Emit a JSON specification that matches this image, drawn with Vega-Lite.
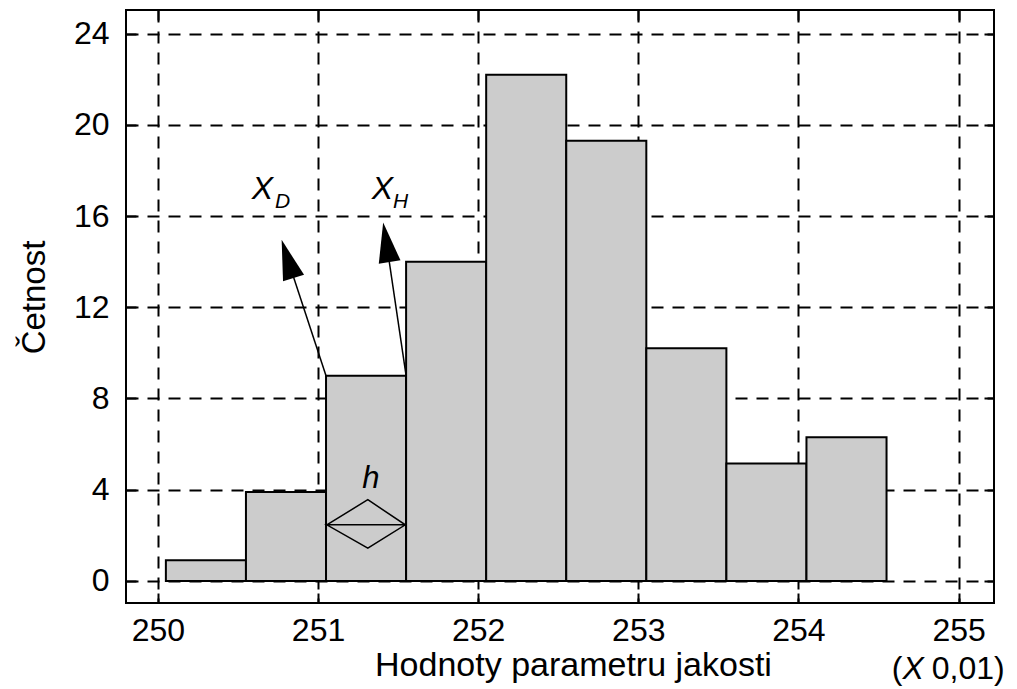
{
  "$schema": "https://vega.github.io/schema/vega-lite/v6.json",
  "width": 868,
  "height": 593,
  "autosize": {"type": "none"},
  "padding": {"left": 126, "top": 10, "right": 23, "bottom": 86},
  "background": "white",
  "config": {
    "font": "Liberation Sans",
    "view": {"stroke": "black", "strokeWidth": 2},
    "text": {"font": "Liberation Sans", "color": "black"}
  },
  "datasets": {
    "bins": [
      {"from": 250.05, "to": 250.55, "count": 0.9},
      {"from": 250.55, "to": 251.05, "count": 3.9},
      {"from": 251.05, "to": 251.55, "count": 9},
      {"from": 251.55, "to": 252.05, "count": 14},
      {"from": 252.05, "to": 252.55, "count": 22.2},
      {"from": 252.55, "to": 253.05, "count": 19.3},
      {"from": 253.05, "to": 253.55, "count": 10.2},
      {"from": 253.55, "to": 254.05, "count": 5.15},
      {"from": 254.05, "to": 254.55, "count": 6.3}
    ],
    "diamond": [
      {"step": 0, "x": 251.055, "y": 2.46},
      {"step": 1, "x": 251.311, "y": 3.56},
      {"step": 2, "x": 251.545, "y": 2.46},
      {"step": 3, "x": 251.311, "y": 1.44},
      {"step": 4, "x": 251.055, "y": 2.46},
      {"step": 5, "x": 251.545, "y": 2.46}
    ],
    "arrows": [
      {"arrow": "D", "step": 0, "x": 251.05, "y": 9},
      {"arrow": "D", "step": 1, "x": 250.81, "y": 14.12},
      {"arrow": "H", "step": 0, "x": 251.55, "y": 9},
      {"arrow": "H", "step": 1, "x": 251.427, "y": 14.85}
    ],
    "headD": [{"x": 250.81, "y": 14.12}],
    "headH": [{"x": 251.427, "y": 14.85}],
    "bigX": [
      {"x": 250.586, "y": 16.74, "text": "X"},
      {"x": 251.335, "y": 16.74, "text": "X"},
      {"x": 254.65, "y": -4.29, "text": "X"}
    ],
    "subs": [
      {"x": 250.732, "y": 16.35, "text": "D"},
      {"x": 251.468, "y": 16.35, "text": "H"}
    ],
    "hlabel": [{"x": 251.33, "y": 4.07, "text": "h"}],
    "unitL": [{"x": 254.583, "y": -4.29, "text": "("}],
    "unitR": [{"x": 255.288, "y": -4.29, "text": "0,01)"}]
  },
  "layer": [
    {
      "data": {"name": "bins"},
      "mark": {"type": "rect", "fill": "#cccccc", "stroke": "black", "strokeWidth": 2},
      "encoding": {
        "x": {
          "field": "from", "type": "quantitative",
          "scale": {"domain": [249.801, 255.221], "nice": false, "zero": false},
          "axis": {
            "orient": "bottom",
            "values": [250, 251, 252, 253, 254, 255],
            "format": "d",
            "grid": true, "gridColor": "black", "gridDash": [12, 9], "gridWidth": 2, "gridOpacity": 1,
            "domain": false,
            "ticks": true, "tickSize": -10, "tickColor": "black", "tickWidth": 2,
            "labelFontSize": 32, "labelColor": "black", "labelPadding": 22, "labelFlush": false,
            "labelFont": "Liberation Sans",
            "title": "Hodnoty parametru jakosti",
            "titleFont": "Liberation Sans",
            "titleFontSize": 34, "titleFontWeight": "normal", "titleColor": "black",
            "titleX": 447, "titleY": 72, "titleAlign": "center", "titleBaseline": "alphabetic"
          }
        },
        "x2": {"field": "to"},
        "y": {
          "field": "count", "type": "quantitative",
          "scale": {"domain": [-0.97, 25.04], "nice": false, "zero": false},
          "axis": {
            "orient": "left",
            "values": [0, 4, 8, 12, 16, 20, 24],
            "grid": true, "gridColor": "black", "gridDash": [12, 9], "gridWidth": 2, "gridOpacity": 1,
            "domain": false,
            "ticks": true, "tickSize": -10, "tickColor": "black", "tickWidth": 2,
            "labelFontSize": 32, "labelColor": "black", "labelPadding": 27, "labelFlush": false,
            "labelFont": "Liberation Sans",
            "title": "Četnost",
            "titleFont": "Liberation Sans",
            "titleFontSize": 33, "titleFontWeight": "normal", "titleColor": "black",
            "titleX": -82, "titleY": 287, "titleAlign": "center", "titleBaseline": "alphabetic", "titleAngle": -90
          }
        },
        "y2": {"datum": 0}
      }
    },
    {
      "data": {"name": "diamond"},
      "mark": {"type": "line", "stroke": "black", "strokeWidth": 1.5},
      "encoding": {
        "x": {
          "field": "x", "type": "quantitative",
          "scale": {"domain": [249.801, 255.221], "nice": false, "zero": false},
          "axis": {
            "orient": "top", "values": [250, 251, 252, 253, 254, 255],
            "labels": false, "grid": false, "domain": false, "title": null,
            "ticks": true, "tickSize": -10, "tickColor": "black", "tickWidth": 2
          }
        },
        "y": {
          "field": "y", "type": "quantitative",
          "scale": {"domain": [-0.97, 25.04], "nice": false, "zero": false},
          "axis": {
            "orient": "right", "values": [0, 4, 8, 12, 16, 20, 24],
            "labels": false, "grid": false, "domain": false, "title": null,
            "ticks": true, "tickSize": -10, "tickColor": "black", "tickWidth": 2
          }
        },
        "order": {"field": "step", "type": "quantitative"}
      }
    },
    {
      "data": {"name": "arrows"},
      "mark": {"type": "line", "stroke": "black", "strokeWidth": 1.5},
      "encoding": {
        "x": {"field": "x", "type": "quantitative", "scale": {"domain": [249.801, 255.221], "nice": false, "zero": false}, "axis": null},
        "y": {"field": "y", "type": "quantitative", "scale": {"domain": [-0.97, 25.04], "nice": false, "zero": false}, "axis": null},
        "detail": {"field": "arrow", "type": "nominal"},
        "order": {"field": "step", "type": "quantitative"}
      }
    },
    {
      "data": {"name": "headD"},
      "mark": {"type": "point", "shape": "M0,-1L0.55,1L-0.55,1Z", "filled": true, "fill": "black", "opacity": 1, "size": 1600, "angle": 342.7, "strokeWidth": 0},
      "encoding": {
        "x": {"field": "x", "type": "quantitative", "scale": {"domain": [249.801, 255.221], "nice": false, "zero": false}, "axis": null},
        "y": {"field": "y", "type": "quantitative", "scale": {"domain": [-0.97, 25.04], "nice": false, "zero": false}, "axis": null}
      }
    },
    {
      "data": {"name": "headH"},
      "mark": {"type": "point", "shape": "M0,-1L0.55,1L-0.55,1Z", "filled": true, "fill": "black", "opacity": 1, "size": 1600, "angle": 350.7, "strokeWidth": 0},
      "encoding": {
        "x": {"field": "x", "type": "quantitative", "scale": {"domain": [249.801, 255.221], "nice": false, "zero": false}, "axis": null},
        "y": {"field": "y", "type": "quantitative", "scale": {"domain": [-0.97, 25.04], "nice": false, "zero": false}, "axis": null}
      }
    },
    {
      "data": {"name": "bigX"},
      "mark": {"type": "text", "font": "Liberation Sans", "fontSize": 32, "fontStyle": "italic", "align": "left", "baseline": "alphabetic", "color": "black"},
      "encoding": {
        "x": {"field": "x", "type": "quantitative", "scale": {"domain": [249.801, 255.221], "nice": false, "zero": false}, "axis": null},
        "y": {"field": "y", "type": "quantitative", "scale": {"domain": [-0.97, 25.04], "nice": false, "zero": false}, "axis": null},
        "text": {"field": "text"}
      }
    },
    {
      "data": {"name": "subs"},
      "mark": {"type": "text", "font": "Liberation Sans", "fontSize": 21, "fontStyle": "italic", "align": "left", "baseline": "alphabetic", "color": "black"},
      "encoding": {
        "x": {"field": "x", "type": "quantitative", "scale": {"domain": [249.801, 255.221], "nice": false, "zero": false}, "axis": null},
        "y": {"field": "y", "type": "quantitative", "scale": {"domain": [-0.97, 25.04], "nice": false, "zero": false}, "axis": null},
        "text": {"field": "text"}
      }
    },
    {
      "data": {"name": "hlabel"},
      "mark": {"type": "text", "font": "Liberation Sans", "fontSize": 31, "fontStyle": "italic", "align": "center", "baseline": "alphabetic", "color": "black"},
      "encoding": {
        "x": {"field": "x", "type": "quantitative", "scale": {"domain": [249.801, 255.221], "nice": false, "zero": false}, "axis": null},
        "y": {"field": "y", "type": "quantitative", "scale": {"domain": [-0.97, 25.04], "nice": false, "zero": false}, "axis": null},
        "text": {"field": "text"}
      }
    },
    {
      "data": {"name": "unitL"},
      "mark": {"type": "text", "font": "Liberation Sans", "fontSize": 32, "align": "left", "baseline": "alphabetic", "color": "black"},
      "encoding": {
        "x": {"field": "x", "type": "quantitative", "scale": {"domain": [249.801, 255.221], "nice": false, "zero": false}, "axis": null},
        "y": {"field": "y", "type": "quantitative", "scale": {"domain": [-0.97, 25.04], "nice": false, "zero": false}, "axis": null},
        "text": {"field": "text"}
      }
    },
    {
      "data": {"name": "unitR"},
      "mark": {"type": "text", "font": "Liberation Sans", "fontSize": 32, "align": "right", "baseline": "alphabetic", "color": "black"},
      "encoding": {
        "x": {"field": "x", "type": "quantitative", "scale": {"domain": [249.801, 255.221], "nice": false, "zero": false}, "axis": null},
        "y": {"field": "y", "type": "quantitative", "scale": {"domain": [-0.97, 25.04], "nice": false, "zero": false}, "axis": null},
        "text": {"field": "text"}
      }
    }
  ],
  "resolve": {"axis": {"x": "independent", "y": "independent"}}
}
